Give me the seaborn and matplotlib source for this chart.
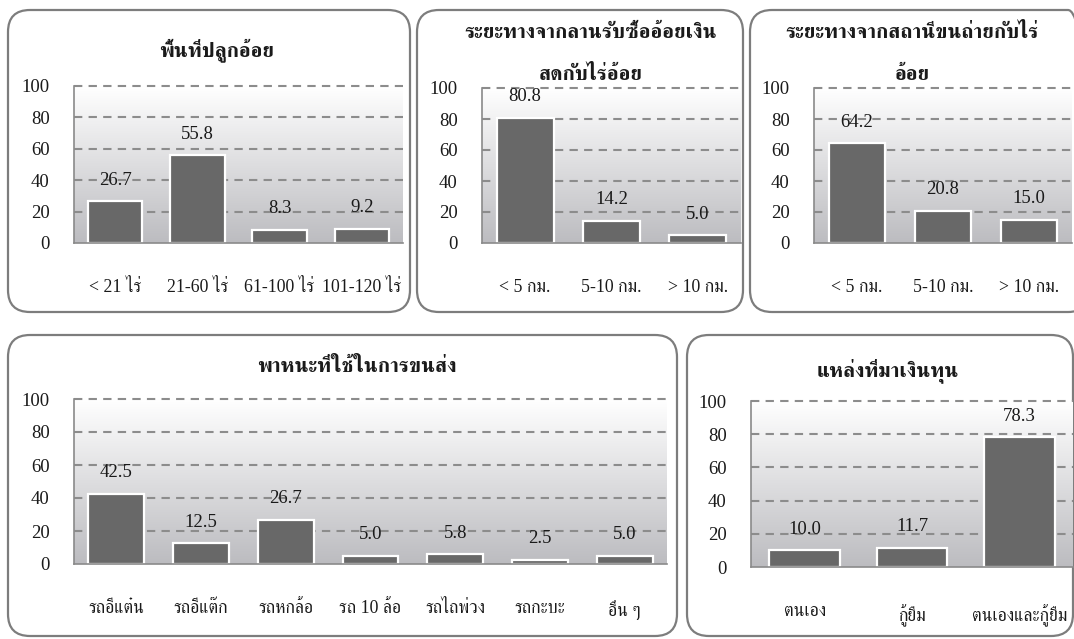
import numpy as np
import matplotlib
matplotlib.use("Agg")
import matplotlib.pyplot as plt
from matplotlib import font_manager as fm
from matplotlib.patches import FancyBboxPatch
from matplotlib.transforms import IdentityTransform
from matplotlib.colors import LinearSegmentedColormap
import seaborn as sns

# ---------------- data ----------------
area_title = "พื้นที่ปลูกอ้อย"
area_cats = ["< 21 ไร่", "21-60 ไร่", "61-100 ไร่", "101-120 ไร่"]
area_vals = [26.7, 55.8, 8.3, 9.2]

buy_title = "ระยะทางจากลานรับซื้ออ้อยเงิน\nสดกับไร่อ้อย"
buy_cats = ["< 5 กม.", "5-10 กม.", "> 10 กม."]
buy_vals = [80.8, 14.2, 5.0]

station_title = "ระยะทางจากสถานีขนถ่ายกับไร่\nอ้อย"
station_cats = ["< 5 กม.", "5-10 กม.", "> 10 กม."]
station_vals = [64.2, 20.8, 15.0]

vehicle_title = "พาหนะที่ใช้ในการขนส่ง"
vehicle_cats = ["รถอีแต๋น", "รถอีแต๊ก", "รถหกล้อ", "รถ 10 ล้อ", "รถไถพ่วง", "รถกะบะ", "อื่น ๆ"]
vehicle_vals = [42.5, 12.5, 26.7, 5.0, 5.8, 2.5, 5.0]

fund_title = "แหล่งที่มาเงินทุน"
fund_cats = ["ตนเอง", "กู้ยืม", "ตนเองและกู้ยืม"]
fund_vals = [10.0, 11.7, 78.3]

y_ticks = [0, 20, 40, 60, 80, 100]

# ---------------- fonts ----------------
sns.set_style("white")


def find_thai_font():
    try:
        from fontTools.ttLib import TTFont
    except Exception:
        return None
    found = []
    for f in fm.fontManager.ttflist:
        try:
            tt = TTFont(f.fname, fontNumber=0, lazy=True)
            cmap = tt.getBestCmap() or {}
            if 0x0E01 in cmap and 0x0E4B in cmap:
                found.append(f.name)
        except Exception:
            pass
    if not found:
        return None
    for pref in ("Serif", "Thai", "Sarabun"):
        for n in found:
            if pref in n:
                return n
    return found[0]


thai_font = find_thai_font()
families = ["Liberation Serif"]
if thai_font:
    families.append(thai_font)
families.append("DejaVu Sans")
plt.rcParams["font.family"] = families

W, H = 1074, 639
fig = plt.figure(figsize=(W / 100, H / 100), dpi=100)
fig.patch.set_facecolor("white")

BAR = "#686868"
GRID = "#8c8c8c"
AX = "#8a8a8a"
BOX = "#7d7d7d"
FS = 13.5
XFS = 12.8
TXT = "#1a1a1a"

grad_cmap = LinearSegmentedColormap.from_list("g", ["#bcbcc0", "#ffffff"])


def box(x0, y0, x1, y1):
    p = FancyBboxPatch((x0, H - y1), x1 - x0, y1 - y0,
                       boxstyle="round,pad=0,rounding_size=22",
                       transform=IdentityTransform(), facecolor="none",
                       edgecolor=BOX, linewidth=1.6, zorder=0)
    fig.add_artist(p)


def panel(rect, cats, vals, title, title_xy):
    x0, y0, x1, y1 = rect
    ax = fig.add_axes([x0 / W, 1 - y1 / H, (x1 - x0) / W, (y1 - y0) / H])
    n = len(cats)
    grad = np.linspace(0, 1, 256).reshape(-1, 1)
    ax.imshow(grad, extent=(-0.5, n - 0.5, 0, 100), origin="lower",
              aspect="auto", cmap=grad_cmap, zorder=0)
    for t in y_ticks[1:]:
        ax.axhline(t, color=GRID, lw=1.5, dashes=(4, 3), zorder=0.5, clip_on=False)
    sns.barplot(x=cats, y=vals, ax=ax, color=BAR, width=0.66,
                edgecolor="white", linewidth=1.6, saturation=1, zorder=2)
    for p in ax.patches:
        p.set_facecolor(BAR)
    for i, v in enumerate(vals):
        ax.annotate(f"{v:.1f}", (i, v), xytext=(0, 9), textcoords="offset points",
                    ha="center", va="bottom", fontsize=FS, color=TXT)
    ax.set_xlim(-0.5, n - 0.5)
    ax.set_ylim(0, 100)
    ax.set_yticks(y_ticks)
    ax.set_yticklabels([str(t) for t in y_ticks])
    ax.set_xticks(range(n))
    ax.set_xticklabels(cats)
    ax.set_xticks(np.arange(-0.5, n, 1.0), minor=True)
    ax.tick_params(axis="x", which="major", length=0, pad=26, labelsize=XFS,
                   labelcolor=TXT)
    ax.tick_params(axis="x", which="minor", length=5, width=1.2, color=AX,
                   direction="out")
    ax.tick_params(axis="y", length=6.5, width=1.2, color=AX, pad=11,
                   labelsize=FS, labelcolor=TXT)
    ax.set_xlabel("")
    ax.set_ylabel("")
    for s in ("top", "right"):
        ax.spines[s].set_visible(False)
    for s in ("left", "bottom"):
        ax.spines[s].set_color(AX)
        ax.spines[s].set_linewidth(1.2)
    ax.set_facecolor("none")
    tx, ty = title_xy
    fig.text(tx / W, 1 - ty / H, title, ha="center", va="center",
             fontsize=15, fontweight="bold", color=TXT, linespacing=2.45)
    return ax


box(8, 10, 410, 312)
box(417, 10, 743, 312)
box(750, 10, 1090, 312)
box(8, 335, 677, 636)
box(687, 335, 1073, 636)

panel((74, 86, 403, 243), area_cats, area_vals, area_title, (217, 50))
panel((482, 88, 741, 243), buy_cats, buy_vals, buy_title, (591, 54))
panel((814, 88, 1072, 243), station_cats, station_vals, station_title, (912, 54))
panel((74, 399, 667, 564), vehicle_cats, vehicle_vals, vehicle_title, (357, 367))
panel((751, 401, 1073, 567), fund_cats, fund_vals, fund_title, (888, 371))

fig.savefig("out.png", dpi=100, facecolor="white")
